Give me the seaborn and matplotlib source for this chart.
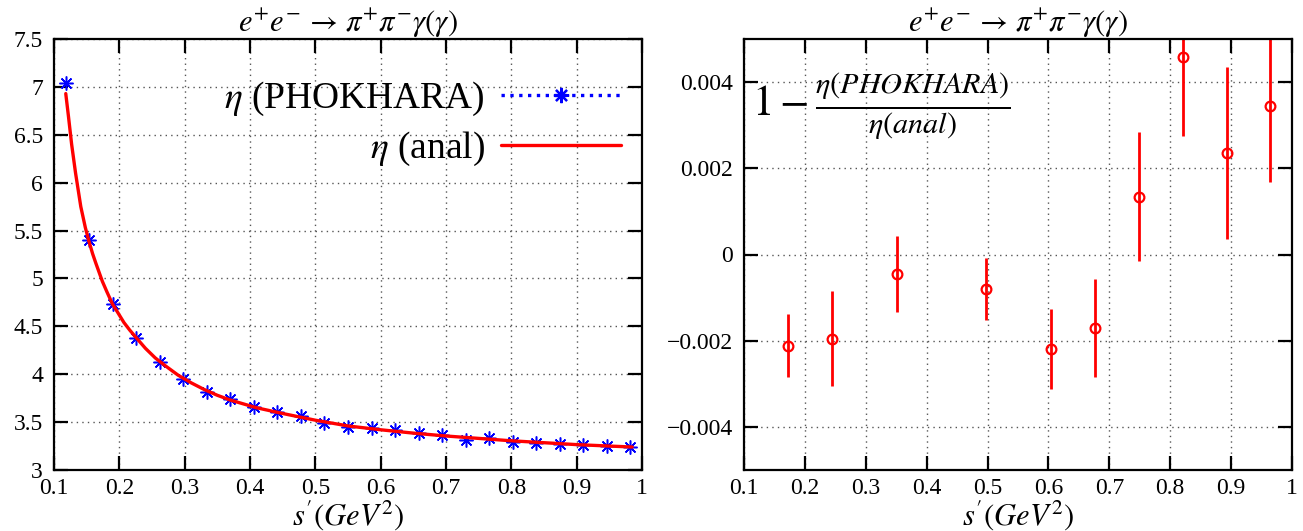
import numpy as np
import matplotlib
matplotlib.use("Agg")
import matplotlib.pyplot as plt
from matplotlib.lines import Line2D
import seaborn as sns

# left panel: eta from PHOKHARA (stars) and analytic curve
s_phok = [0.118, 0.154, 0.190, 0.226, 0.262, 0.298, 0.334, 0.370, 0.406, 0.442,
          0.478, 0.514, 0.550, 0.586, 0.622, 0.658, 0.694, 0.730, 0.766, 0.802,
          0.838, 0.874, 0.910, 0.946, 0.982]
eta_phok = [7.04, 5.40, 4.73, 4.38, 4.126, 3.954, 3.814, 3.744, 3.66, 3.61,
            3.565, 3.495, 3.453, 3.439, 3.414, 3.389, 3.365, 3.316, 3.333, 3.295,
            3.277, 3.274, 3.256, 3.255, 3.242]
s_anal = [0.118, 0.122, 0.127, 0.133, 0.141, 0.148, 0.153, 0.159, 0.164, 0.174,
          0.181, 0.189, 0.198, 0.207, 0.216, 0.226, 0.24, 0.255, 0.27, 0.29,
          0.31, 0.33, 0.35, 0.37, 0.39, 0.41, 0.45, 0.5, 0.55, 0.6, 0.65,
          0.7, 0.75, 0.8, 0.85, 0.9, 0.95, 0.985]
eta_anal = [6.93, 6.70, 6.40, 6.10, 5.75, 5.53, 5.40, 5.26, 5.16, 4.97,
            4.86, 4.74, 4.64, 4.54, 4.46, 4.38, 4.27, 4.17, 4.09, 3.99,
            3.91, 3.84, 3.78, 3.73, 3.69, 3.65, 3.59, 3.52, 3.46, 3.42, 3.385,
            3.355, 3.33, 3.305, 3.285, 3.265, 3.25, 3.24]

# right panel: relative difference with errors
s_diff = [0.173, 0.245, 0.352, 0.497, 0.605, 0.677, 0.748, 0.821, 0.893, 0.964]
rel_diff = [-0.00212, -0.00195, -0.00046, -0.00080, -0.00220, -0.00171,
            0.00134, 0.00458, 0.00236, 0.00345]
rel_err = [0.00073, 0.00110, 0.00088, 0.00073, 0.00093, 0.00113,
           0.00150, 0.00184, 0.00199, 0.00176]

x_ticks = [0.1, 0.2, 0.3, 0.4, 0.5, 0.6, 0.7, 0.8, 0.9, 1.0]
x_labels = ["0.1", "0.2", "0.3", "0.4", "0.5", "0.6", "0.7", "0.8", "0.9", "1"]
yl_ticks = [3, 3.5, 4, 4.5, 5, 5.5, 6, 6.5, 7, 7.5]
yl_labels = ["3", "3.5", "4", "4.5", "5", "5.5", "6", "6.5", "7", "7.5"]
yr_ticks = [-0.004, -0.002, 0, 0.002, 0.004]
yr_labels = ["\u22120.004", "\u22120.002", "0", "0.002", "0.004"]

sns.set_theme(style="ticks")
plt.rcParams["font.family"] = ["Liberation Serif", "DejaVu Serif"]
plt.rcParams["mathtext.fontset"] = "stix"
plt.rcParams["text.color"] = "black"

fig = plt.figure(figsize=(13.03, 5.31), dpi=100)
ax1 = fig.add_axes([54 / 1303, 1 - 470 / 531, 588 / 1303, 431 / 531])
ax2 = fig.add_axes([744 / 1303, 1 - 470 / 531, 548 / 1303, 431 / 531])

title = r"$e^{+}e^{-}\,\rightarrow\,\pi^{+}\pi^{-}\gamma(\gamma)$"
xlab = r"$s^{\prime}(GeV^{2})$"


def style_axes(ax, yticks, ylabels):
    ax.set_xlim(0.1, 1.0)
    ax.set_xticks(x_ticks)
    ax.set_xticklabels(x_labels)
    ax.set_yticks(yticks)
    ax.set_yticklabels(ylabels)
    ax.tick_params(direction="in", length=10, width=1.6, top=True, right=True,
                   labelsize=17, colors="black", pad=6)
    ax.tick_params(axis="y", pad=8)
    for sp in ax.spines.values():
        sp.set_visible(True)
        sp.set_linewidth(1.6)
        sp.set_color("black")
    ax.grid(True, color="#555555", linestyle=(0, (1, 3)), linewidth=1.0)
    ax.set_axisbelow(True)
    ax.set_title(title, fontsize=22, pad=5, color="black")
    ax.set_xlabel(xlab, fontsize=22, labelpad=-1, color="black")
    ax.set_ylabel("")


# left
sns.lineplot(x=s_phok, y=eta_phok, ax=ax1, color="blue", linestyle="none",
             marker=(8, 2, 0), markersize=10, markeredgewidth=1.1,
             markeredgecolor="blue", sort=False)
sns.lineplot(x=s_anal, y=eta_anal, ax=ax1, color="red", linewidth=2.4,
             sort=False)
ax1.set_ylim(3, 7.5)
style_axes(ax1, yl_ticks, yl_labels)
handles = [
    Line2D([], [], color="blue", linestyle=":", linewidth=2.4, marker=(8, 2, 0),
           markersize=11, markeredgewidth=1.6, markeredgecolor="blue"),
    Line2D([], [], color="red", linewidth=2.4),
]
ax1.legend(handles, [r"$\eta$ (PHOKHARA)", r"$\eta$ (anal)"],
           loc="upper right", bbox_to_anchor=(0.965, 0.905), frameon=False,
           markerfirst=False, fontsize=27, handlelength=3.2, handletextpad=0.45,
           labelspacing=0.32, numpoints=1, borderpad=0, borderaxespad=0)

# right
ax2.errorbar(s_diff, rel_diff, yerr=rel_err, fmt="o", color="red", mfc="none",
             mec="red", ms=7, mew=1.6, elinewidth=2, capsize=0)
ax2.set_ylim(-0.005, 0.005)
style_axes(ax2, yr_ticks, yr_labels)
ax2.text(0.015, 0.845, r"$1-\frac{\eta(PHOKHARA)}{\eta(anal)}$",
         transform=ax2.transAxes, fontsize=31, va="center", ha="left")

fig.savefig("out.png", dpi=100)
